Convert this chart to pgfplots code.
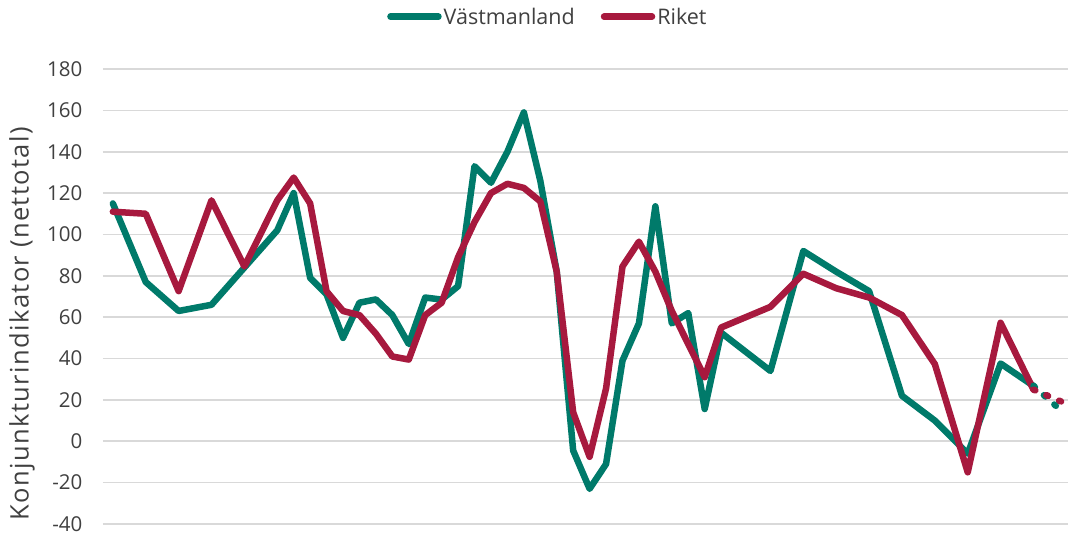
\documentclass[border=0pt]{standalone}
\usepackage{pgfplots}
\usepackage{pgfplotstable}
\pgfplotsset{compat=1.18}
\usepackage{fontspec}
\setmainfont{Open Sans}
\newfontfamily\labelfont[LetterSpace=5.5]{Open Sans}
\definecolor{vgreen}{RGB}{0,122,106}
\definecolor{rred}{RGB}{167,25,62}
\definecolor{gridgray}{RGB}{217,217,217}
\definecolor{txt}{RGB}{64,64,64}

\pgfplotstableread{
x y
0 115
2 77
4 63
6 66
8 84
10 102
11 120
12 79
13 71
14 50
15 67
16 68.6
17 61
18 47
19 69.5
20 68.5
21 75
22 133
23 125
24 140
25 159
26 126
27 82
28 -4.5
29 -23
30 -11
31 39
32 57
33 113.6
34 57
35 62
36 15.6
37 52.5
40 34
42 92
44 82
46 72.6
48 22
50 10
52 -6
54 37.6
56 26.8
}\vastm

\pgfplotstableread{
x y
0 111
2 110
4 72.6
6 116.5
8 84.5
10 116.5
11 127.5
12 115
13 72.5
14 63
15 61
16 52
17 41
18 39.5
19 61
20 67
21 89
22 106
23 120
24 124.5
25 122.5
26 116
27 82
28 14
29 -7.5
30 25.5
31 84.5
32 96.5
33 82
34 63
35 47
36 31
37 55
40 65
42 81
44 74
46 69.5
48 61
50 37.3
52 -15
54 57.3
56 25
}\riket

\pgfplotstableread{
x y
56 26.8
57.8 14
}\vastmf

\pgfplotstableread{
x y
56 25
57.8 18.8
}\riketf

\begin{document}
\begin{tikzpicture}
\path[use as bounding box] (-103bp,-13bp) rectangle (968bp,524bp);
\begin{axis}[
  scale only axis, width=965bp, height=455bp,
  xmin=-0.6, xmax=58.1, ymin=-40, ymax=180,
  ytick={-40,-20,...,180},
  xtick=\empty,
  axis line style={draw=none},
  major tick length=0pt,
  ymajorgrids, grid style={gridgray, line width=1.6bp},
  yticklabel style={font=\fontsize{20.5bp}{24bp}\selectfont, text=txt, inner sep=0pt, xshift=-20.5bp},
  /pgf/number format/assume math mode=true,
  ylabel={Konjunkturindikator (nettotal)},
  ylabel style={font=\labelfont\fontsize{25.5bp}{28bp}\selectfont, text=txt, at={(axis description cs:-0.084,0.44)}, anchor=center},
  clip=false,
  legend columns=2,
  legend style={at={(axis description cs:0.461,1.115)}, anchor=center, draw=none, fill=none,
    font=\fontsize{21.5bp}{24bp}\selectfont, text=txt,
    /tikz/every even column/.append style={column sep=24bp}},
  legend image code/.code={\draw[#1, line width=6.5bp, line cap=round] (0bp,0bp) -- (48bp,0bp);},
  every axis plot/.append style={line width=6.5bp, line join=round, line cap=round},
]
\addplot[vgreen] table[x=x,y=y] {\vastm};
\addlegendentry{Västmanland}
\addplot[rred] table[x=x,y=y] {\riket};
\addlegendentry{Riket}
\addplot[vgreen, dash pattern={on 2bp off 12bp}, forget plot] table[x=x,y=y] {\vastmf};
\addplot[rred, dash pattern={on 2bp off 12bp}, forget plot] table[x=x,y=y] {\riketf};
\end{axis}
\end{tikzpicture}
\end{document}
